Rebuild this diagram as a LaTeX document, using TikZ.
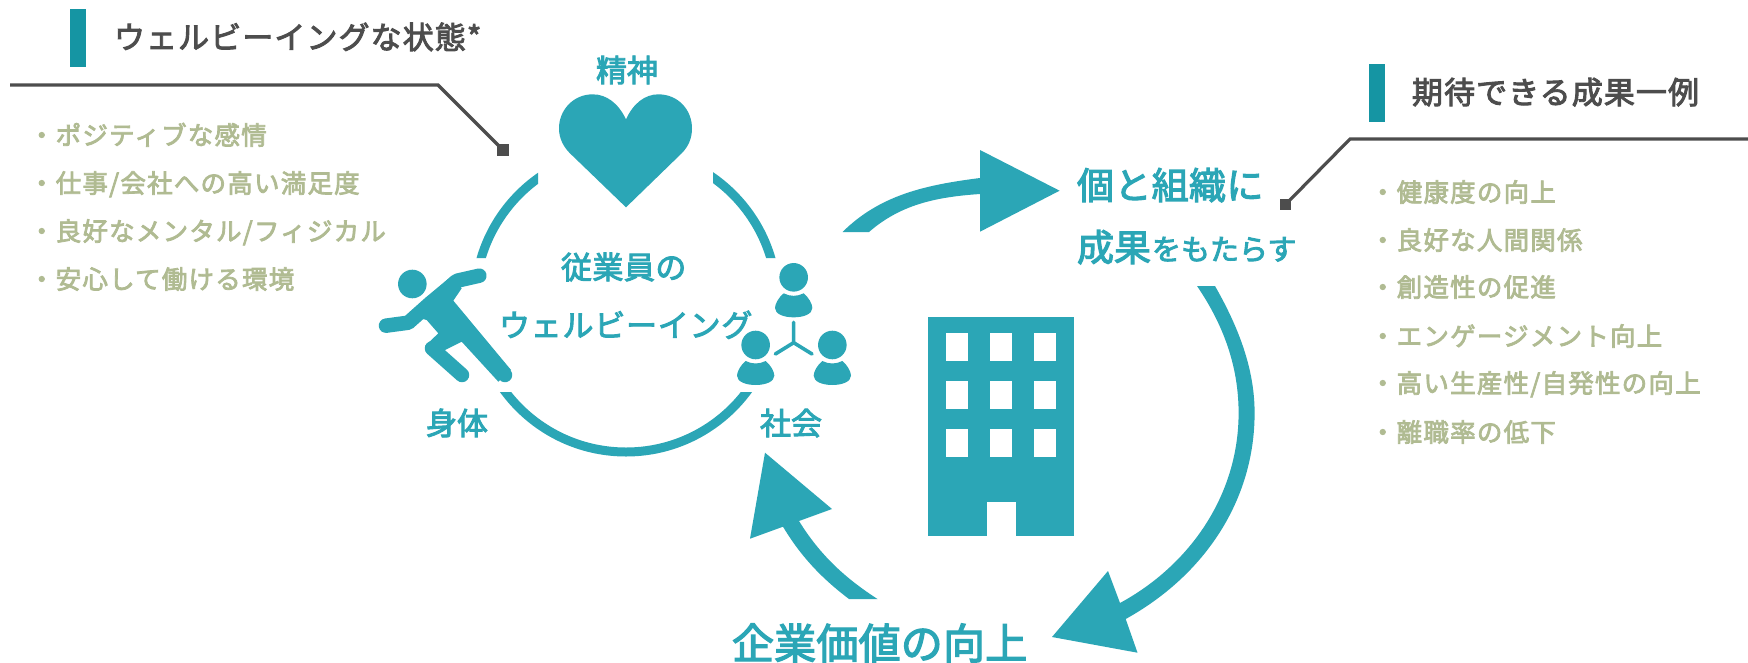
\documentclass[tikz,border=0pt]{standalone}
\usepackage{fontspec}
\setmainfont{Noto Sans CJK JP}
\definecolor{teal1}{HTML}{2BA6B6}
\definecolor{bar1}{HTML}{1595A3}
\definecolor{dark1}{HTML}{4D4D4D}
\definecolor{olive1}{HTML}{B0BB92}
\newcommand\jpt[2]{\fontsize{#1}{#1}\selectfont\addfontfeature{LetterSpace=#2,FakeBold=3}}
\tikzset{
  jtext/.style n args={3}{font=\jpt{#1}{#3},text height=0.88*#1pt,text depth=0.12*#1pt,inner sep=0pt,outer sep=0pt,anchor=west,text=#2},
  titletext/.style={jtext={31}{dark1}{3.5}},
  listtext/.style={jtext={25.5}{olive1}{4.8}},
  barbox/.style={fill=bar1,draw=none},
  leader/.style={draw=dark1,line width=3.2pt,line join=miter},
  endsq/.style={fill=dark1,draw=none,minimum size=11.5pt,inner sep=0pt,outer sep=0pt},
  tealfill/.style={fill=teal1,draw=none},
  limb/.style={draw=teal1,line width=14.5pt,line cap=round,line join=round},
  personicon/.pic={
    \fill[teal1] (0,0) circle[radius=14.3pt];
    \fill[teal1] (-30,48) .. controls (-10,58) and (10,58) .. (30,48)
      .. controls (45,60) and (56,80) .. (56,92)
      .. controls (56,110) and (30,120) .. (0,120)
      .. controls (-30,120) and (-56,110) .. (-56,92)
      .. controls (-56,80) and (-45,60) .. (-30,48) -- cycle;
  }
}
\begin{document}
\begin{tikzpicture}[x=1pt,y=-1pt]
\useasboundingbox (0,0) rectangle (1748,662);
\fill[white] (0,0) rectangle (1748,662);

% left panel
\fill[barbox] (70,9) rectangle (86,67);
\node[titletext] (t1) at (114,37) {ウェルビーイングな状態*};
\coordinate (l1a) at (10,85);
\coordinate (l1b) at (438,85);
\node[endsq] (sq1) at (503,150) {};
\draw[leader] (l1a) -- (l1b) -- (sq1.center);
\node[listtext] (a1) at (29,135) {・ポジティブな感情};
\node[listtext] (a2) at (29,183) {・仕事/会社への高い満足度};
\node[listtext] (a3) at (29,231) {・良好なメンタル/フィジカル};
\node[listtext] (a4) at (29,279) {・安心して働ける環境};

% right panel
\fill[barbox] (1369,64) rectangle (1385,122);
\node[titletext] (t2) at (1412,92) {期待できる成果一例};
\coordinate (l2a) at (1748,139);
\coordinate (l2b) at (1350,139);
\node[endsq] (sq2) at (1285.5,204.5) {};
\draw[leader] (l2a) -- (l2b) -- (sq2.center);
\node[listtext] (b1) at (1370,192) {・健康度の向上};
\node[listtext] (b2) at (1370,240) {・良好な人間関係};
\node[listtext] (b3) at (1370,287) {・創造性の促進};
\node[listtext] (b4) at (1370,336) {・エンゲージメント向上};
\node[listtext] (b5) at (1370,383) {・高い生産性/自発性の向上};
\node[listtext] (b6) at (1370,432) {・離職率の低下};

% ring
\begin{scope}
\clip (470,170) rectangle (538,258) (713,170) rectangle (785,258) (490,392) rectangle (762,465);
\draw[teal1,line width=9pt] (626,301) circle[radius=151pt];
\end{scope}

\node[jtext={31}{teal1}{0}] (n1) at (596,70) {精神};
\node[jtext={31}{teal1}{0}] (n2) at (426,423) {身体};
\node[jtext={31}{teal1}{0}] (n3) at (760,423) {社会};
\node[jtext={31}{teal1}{1.5}] (c1) at (561,267) {従業員の};
\node[jtext={31}{teal1}{2.5}] (c2) at (499,325) {ウェルビーイング};

% icons in zoom coordinates
\begin{scope}[shift={(370,40)},x=0.33333pt,y=-0.33333pt]
% heart
\fill[tealfill] (768,238) .. controls (745,190) and (710,163) .. (668,163)
  .. controls (610,163) and (567,210) .. (567,265)
  .. controls (567,295) and (580,320) .. (600,340)
  -- (768,502) -- (935,340)
  .. controls (955,320) and (966,295) .. (966,265)
  .. controls (966,210) and (925,163) .. (865,163)
  .. controls (825,163) and (790,190) .. (768,238) -- cycle;
% runner
\fill[teal1] (127,732) circle[radius=14.3pt];
\draw[limb] (328,707) -- (262,722) -- (180,790) -- (115,848) -- (48,857);
\fill[tealfill] (245,707) -- (275,745) -- (250,782) -- (423,990)
  -- (385,1025) -- (275,905) -- (225,930) -- (185,935) -- (165,918) -- (205,880) -- (170,840) -- (115,825) -- cycle;
\draw[limb] (186,925) -- (276,1005);
\draw[limb] (260,830) -- (405,1005);
% people
\pic at (1271,712) {personicon};
\pic at (1157,915) {personicon};
\pic at (1387,915) {personicon};
\draw[teal1,line width=3.6pt,line cap=round] (1271,847) -- (1271,908) (1216,942) -- (1271,908) -- (1326,942);
\end{scope}

% building
\fill[tealfill] (928,317) rectangle (1074,536);
\foreach \wx in {946,990,1034}
  \foreach \wy in {333,381,429}
    \fill[white] (\wx,\wy) rectangle ++(22,28);
\fill[white] (986.5,502) rectangle (1015.7,536);

% cycle arrows
\fill[tealfill] (842.5,232) .. controls (880,195) and (925,185) .. (980,178)
  -- (980,150) -- (1059.6,190.7) -- (980,231.7) -- (980,194)
  .. controls (935,197) and (900,205) .. (869,232) -- cycle;
\fill[tealfill] (1215,286) .. controls (1243,335) and (1254.6,375) .. (1254.6,413)
  .. controls (1254.6,500) and (1205,575) .. (1125.7,619)
  -- (1137.5,652.7) -- (1052,637) -- (1108,571) -- (1120,603)
  .. controls (1190,565) and (1238.6,495) .. (1238.6,413)
  .. controls (1238.6,372) and (1227,330) .. (1197,286) -- cycle;
\fill[tealfill] (849,599) .. controls (820,577) and (800,555) .. (783,526.7)
  -- (750,538.7) -- (765,452.7) -- (832,509) -- (799,521)
  .. controls (820,555) and (845,578) .. (877.5,599) -- cycle;

\node[jtext={37}{teal1}{1}] (g1) at (1077,185) {個と組織に};
\node[jtext={37}{teal1}{0}] (g2) at (1077,247) {成果};
\node[jtext={29}{teal1}{0}] (g3) at (1152,249) {をもたらす};
\node[jtext={42}{teal1}{0.5}] (g4) at (732,643) {企業価値の向上};
\end{tikzpicture}
\end{document}
